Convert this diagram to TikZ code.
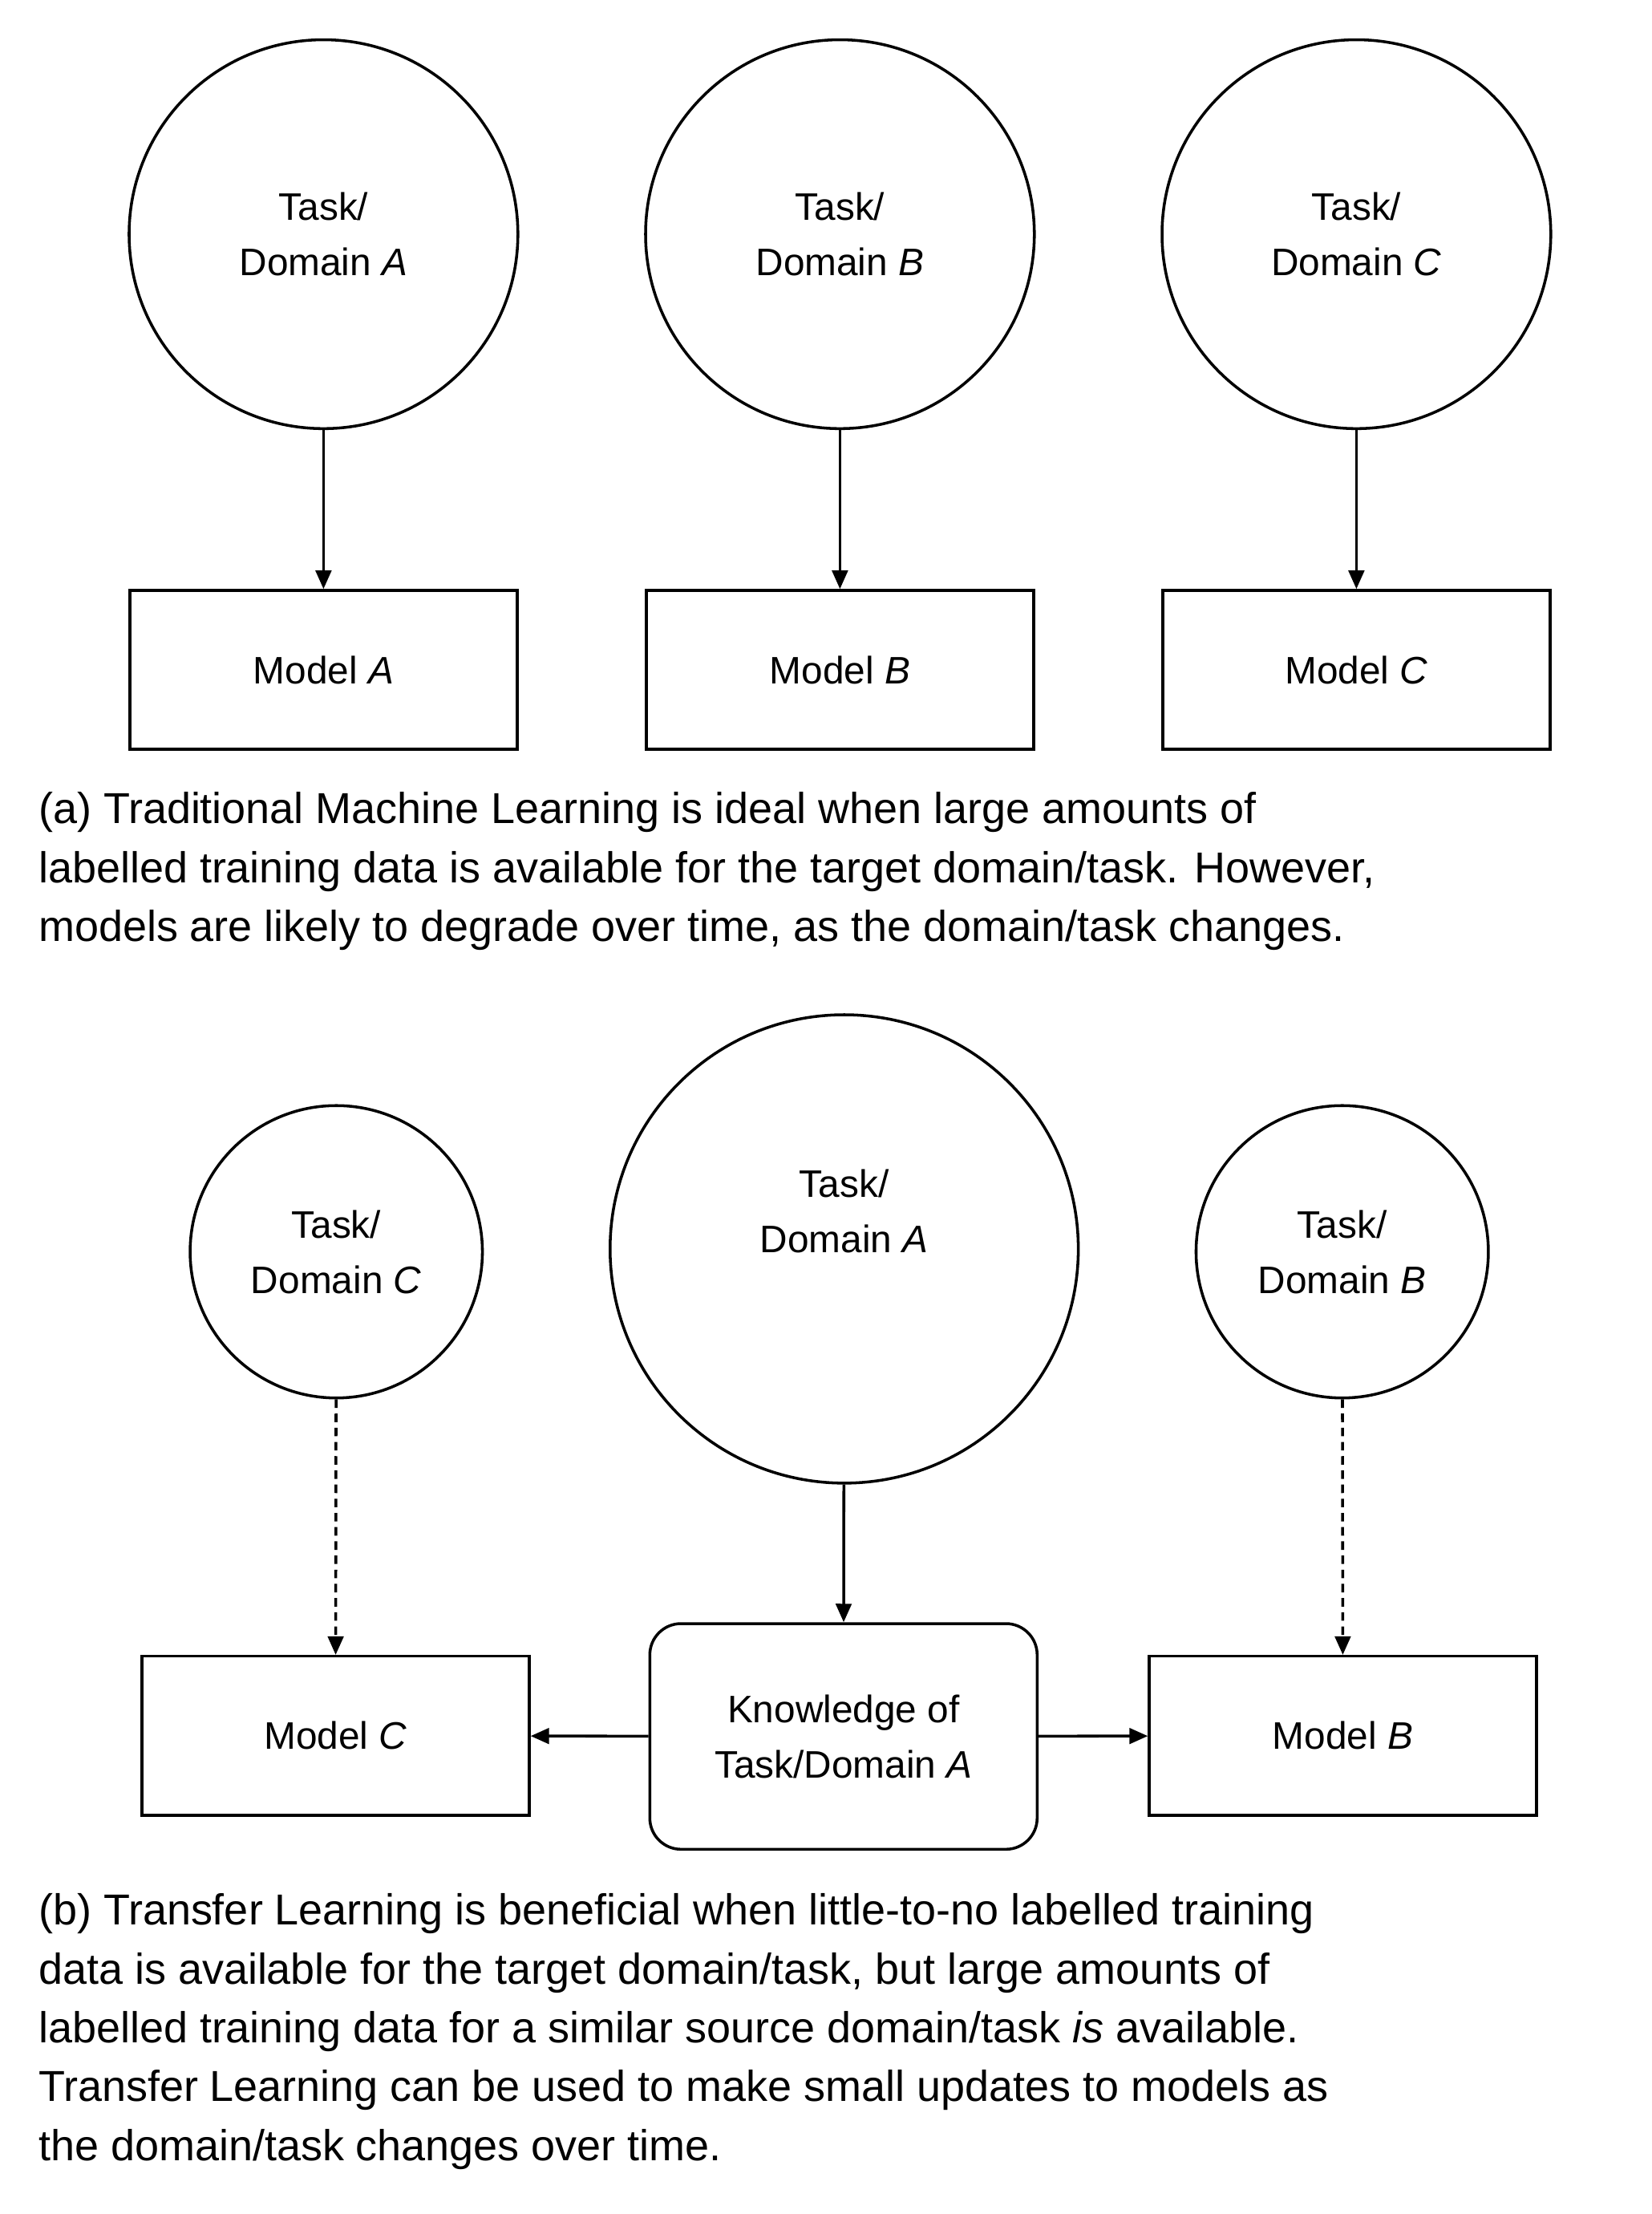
\documentclass[tikz,border=0pt]{standalone}
\usepackage{fontspec}
\setmainfont{Liberation Sans}
\usetikzlibrary{arrows.meta}
\begin{document}
\begin{tikzpicture}[x=1pt,y=-1pt,
  lw/.style={line width=2pt},
  circ/.style={lw,draw,circle,inner sep=0pt,align=center,font=\fontsize{27}{39}\selectfont},
  box/.style={lw,draw,minimum width=273pt,minimum height=112pt,align=center,font=\fontsize{27}{39}\selectfont},
  arr/.style={lw,-{Triangle[length=13pt,width=11pt]}},
  dasharr/.style={arr,dash pattern=on 6pt off 4pt},
  captxt/.style={anchor=north west,align=left,font=\fontsize{30.5}{41.5}\selectfont,inner sep=0pt}]
\useasboundingbox[fill=white] (0,0) rectangle (1164,1560);
% (a)
\foreach \n/\x/\l in {a/228/A,b/592/B,c/956/C}{
  \node[circ,minimum size=274pt] (t\n) at (\x,165) {Task/\\Domain \textit{\l}};
  \node[box] (m\n) at (\x,472) {Model \textit{\l}};
  \draw[arr] (t\n) -- (m\n);
}
\node[captxt] (capa) at (27,558) {(a) Traditional Machine Learning is ideal when large amounts of\\labelled training data is available for the target domain/task. However,\\models are likely to degrade over time, as the domain/task changes.};
% (b)
\node[circ,minimum size=206pt] (bc) at (237,882) {Task/\\Domain \textit{C}};
\node[circ,minimum size=330pt] (ba) at (595,880) {Task/\\Domain \textit{A}\\[14pt]};
\node[circ,minimum size=206pt] (bb) at (946,882) {Task/\\Domain \textit{B}};
\node[box] (mc) at (236.5,1223) {Model \textit{C}};
\node[box,rounded corners=22pt,minimum height=159pt] (kn) at (594.5,1223.5) {Knowledge of\\Task/Domain \textit{A}};
\node[box] (mb) at (946.5,1223) {Model \textit{B}};
\draw[dasharr] (bc) -- (mc);
\draw[dasharr] (bb) -- (mb);
\draw[arr] (ba) -- (kn);
\draw[arr] (kn) -- (mc);
\draw[arr] (kn) -- (mb);
\node[captxt] (capb) at (27,1334) {(b) Transfer Learning is beneficial when little-to-no labelled training\\data is available for the target domain/task, but large amounts of\\labelled training data for a similar source domain/task \textit{is} available.\\Transfer Learning can be used to make small updates to models as\\the domain/task changes over time.};
\end{tikzpicture}
\end{document}
